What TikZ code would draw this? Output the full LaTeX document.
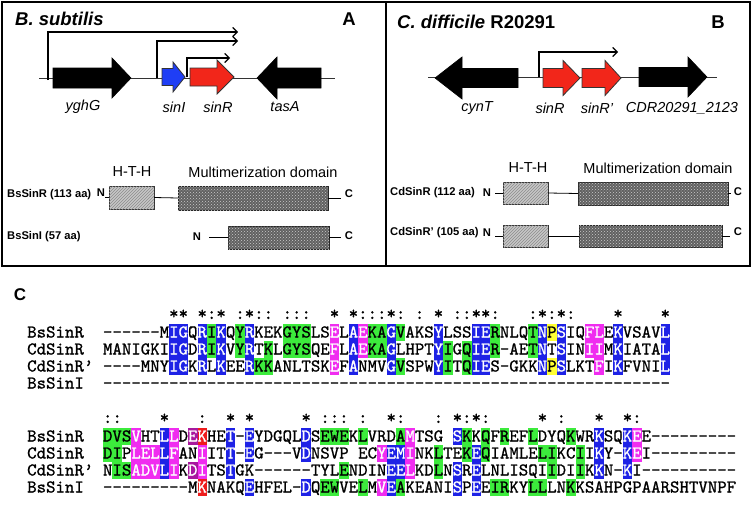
\documentclass[tikz,border=0pt]{standalone}
\usepackage{fontspec}
\setmainfont{Liberation Sans}
\newfontfamily\monof{lmmono10-regular.otf}[FakeBold=1]
\usetikzlibrary{arrows.meta,patterns}
\definecolor{qb}{HTML}{1E22E6}
\definecolor{qg}{HTML}{3CEB3C}
\definecolor{qm}{HTML}{F02CF0}
\definecolor{qy}{HTML}{FFFF33}
\definecolor{qr}{HTML}{EE1C1C}
\definecolor{qp}{HTML}{A8189E}
\colorlet{zb}{white}\colorlet{zm}{white}\colorlet{zr}{white}\colorlet{zp}{white}
\colorlet{zg}{black}\colorlet{zy}{black}
\definecolor{geneblue}{HTML}{1F3EF5}
\definecolor{genered}{HTML}{F2261A}

\newcommand\alnx{103}
\newcommand\alnw{9.45}
\newcommand\alnh{17}
\newcommand\alnb{5.5}

\newcommand\alncell[4]{%
  \if#2.\relax
  \else
    \fill[fill=q#2] ({\alnx+(#3-1)*\alnw},{#4-\alnh/2}) rectangle ++(\alnw,\alnh);%
  \fi
  \if#1/\relax
  \else
    \if#2.\relax
      \node[res] (a#4c#3) at ({\alnx+(#3-0.5)*\alnw},{#4+\alnb}) {#1};%
    \else
      \node[res,text=z#2] (a#4c#3) at ({\alnx+(#3-0.5)*\alnw},{#4+\alnb}) {#1};%
    \fi
  \fi
}

\ExplSyntaxOn
\NewDocumentCommand \alnrow { m m m }
  {
    \int_step_inline:nn { \tl_count:n {#2} }
      {
        \exp_args:Nxx \alncell { \tl_item:nn {#2} {##1} }
          { \tl_item:nn {#3..........................................................................} {##1} }
          {##1} {#1}
      }
  }
\ExplSyntaxOff

% x1 (tail), xh (head base), x2 (tip), yc, body height, head height, style
\newcommand\genearrow[7]{%
  \filldraw[#7] ({#1},{#4-#5/2}) -- ({#2},{#4-#5/2}) -- ({#2},{#4-#6/2}) -- ({#3},{#4})
    -- ({#2},{#4+#6/2}) -- ({#2},{#4+#5/2}) -- ({#1},{#4+#5/2}) -- cycle;}

\begin{document}
\begin{tikzpicture}[x=1pt,y=-1pt,
  gline/.style={line width=0.8pt, draw=black!80},
  prom/.style={line width=1.2pt, -{Straight Barb[length=4.5pt,width=9pt]}},
  ttl/.style={font=\bfseries\fontsize{18.5}{20}\selectfont, inner sep=0},
  glab/.style={font=\itshape\fontsize{14.5}{16}\selectfont, inner sep=0},
  dom/.style={font=\fontsize{14.5}{16}\selectfont, inner sep=0},
  plab/.style={font=\bfseries\fontsize{11.2}{12}\selectfont, inner sep=0},
  hthbox/.style={draw=black!80, line width=0.8pt, fill=black!22,
    postaction={pattern=north east lines, pattern color=black!45}, inner sep=0, outer sep=0},
  multbox/.style={draw=black!85, line width=0.8pt, fill=black!62,
    postaction={pattern=crosshatch dots, pattern color=white!80!black}, inner sep=0, outer sep=0},
  dline/.style={line width=0.8pt},
  blackgene/.style={fill=black, draw=black, line width=0.6pt},
  bluegene/.style={fill=geneblue, draw=black!80, line width=0.8pt},
  redgene/.style={fill=genered, draw=black!80, line width=0.8pt},
  res/.style={font=\monof\fontsize{18}{20}\selectfont, inner sep=0, anchor=base},
  hdr/.style={font=\monof\fontsize{18}{20}\selectfont, inner sep=0, anchor=base}
]
\useasboundingbox (0,0) rectangle (752,506);
\fill[white] (0,0) rectangle (752,506);

% ---------------- frames
\draw[line width=1.6pt] (2,2) rectangle (750,266);
\draw[line width=1.6pt] (386,2) -- (386,266);

% ---------------- Panel A
\node[ttl, anchor=west] (tA) at (15,19) {\itshape B. subtilis};
\node[ttl] (lA) at (349,19) {A};
\draw[gline] (39,78) -- (335,78);
\genearrow{53}{112}{131}{78}{20}{40}{blackgene}
\genearrow{162}{173}{185}{77}{17}{30}{bluegene}
\genearrow{190}{217}{234}{77}{18}{34}{redgene}
\genearrow{321}{277}{257}{78}{20}{42}{blackgene}
\node[glab] (gA1) at (83,107) {yghG};
\node[glab] (gA2) at (174,107) {sinI};
\node[glab] (gA3) at (218,107) {sinR};
\node[glab] (gA4) at (285,107) {tasA};
\coordinate (pA1s) at (48,80);  \coordinate (pA1e) at (238,32);
\coordinate (pA2s) at (157,78); \coordinate (pA2e) at (238,41);
\coordinate (pA3s) at (187,77); \coordinate (pA3e) at (230,58);
\draw[prom] (pA1s) |- (pA1e);
\draw[prom] (pA2s) |- (pA2e);
\draw[prom] (pA3s) |- (pA3e);

\node[dom] (dA1) at (132,172) {H-T-H};
\node[dom] (dA2) at (263,172) {Multimerization domain};
\node[plab, anchor=west] (lbA1) at (7,195) {BsSinR (113 aa)};
\node[plab] (nA1) at (101,193) {N};
\node[hthbox, minimum width=45pt, minimum height=23pt] (hA1) at (131.5,197.5) {};
\node[multbox, minimum width=150pt, minimum height=24pt] (mA1) at (253,198) {};
\node[plab] (cA1) at (349,194) {C};
\draw[dline] (nA1.east |- hA1.west) -- (hA1.west);
\draw[dline] (hA1.east) -- (mA1.west);
\draw[dline] (mA1.east) -- ([xshift=-4pt]cA1.west |- mA1.east);
\node[plab, anchor=west] (lbA2) at (7,237) {BsSinI (57 aa)};
\node[plab] (nA2) at (197,237) {N};
\node[multbox, minimum width=101pt, minimum height=23pt] (mA2) at (278.5,237.5) {};
\node[plab] (cA2) at (349,236) {C};
\draw[dline] ([xshift=8pt]nA2.east |- mA2.west) -- (mA2.west);
\draw[dline] (mA2.east) -- ([xshift=-4pt]cA2.west |- mA2.east);

% ---------------- Panel B
\node[ttl, anchor=west] (tB) at (397,22) {\itshape C. difficile\/\upshape{} R20291};
\node[ttl] (lB) at (718,22) {B};
\draw[gline] (428,77) -- (717,77);
\genearrow{518}{462}{435}{78}{19}{42}{blackgene}
\genearrow{543}{563}{580}{78}{19}{35}{redgene}
\genearrow{582}{605}{621}{78}{19}{35}{redgene}
\genearrow{639}{688}{707}{77}{19}{40}{blackgene}
\node[glab] (gB1) at (477,108) {cynT};
\node[glab] (gB2) at (550,108) {sinR};
\node[glab] (gB3) at (597,108) {sinR'};
\node[glab] (gB4) at (682,108) {CDR20291\_2123};
\coordinate (pBs) at (539,77); \coordinate (pBe) at (618,52);
\draw[prom] (pBs) |- (pBe);

\node[dom] (dB1) at (528,168) {H-T-H};
\node[dom] (dB2) at (658,168) {Multimerization domain};
\node[plab, anchor=west] (lbB1) at (390,193) {CdSinR (112 aa)};
\node[plab] (nB1) at (487,193) {N};
\node[hthbox, minimum width=45pt, minimum height=22pt] (hB1) at (525.5,193) {};
\node[multbox, minimum width=150pt, minimum height=23pt] (mB1) at (653,193.5) {};
\node[plab] (cB1) at (738,192) {C};
\draw[dline] ([xshift=4pt]nB1.east |- hB1.west) -- (hB1.west);
\draw[dline] (hB1.east) -- (mB1.west);
\draw[dline] (mB1.east) -- ([xshift=-3pt]cB1.west |- mB1.east);
\node[plab, anchor=west] (lbB2) at (390,233) {CdSinR' (105 aa)};
\node[plab] (nB2) at (487,233) {N};
\node[hthbox, minimum width=45pt, minimum height=22pt] (hB2) at (525.5,236) {};
\node[multbox, minimum width=143pt, minimum height=22pt] (mB2) at (650.5,236) {};
\node[plab] (cB2) at (738,232) {C};
\draw[dline] ([xshift=4pt]nB2.east |- hB2.west) -- (hB2.west);
\draw[dline] (hB2.east) -- (mB2.west);
\draw[dline] (mB2.east) -- ([xshift=-4pt]cB2.west |- mB2.east);

% ---------------- Panel C : alignment
\node[font=\bfseries\fontsize{17}{18}\selectfont, inner sep=0] (lC) at (20,295) {C};

% block 1
\foreach \cc/\ss in {8/*,9/*,11/*,12/:,13/*,15/:,16/*,17/:,18/:,20/:,21/:,22/:,25/*,27/*,28/:,29/:,30/:,31/*,32/:,34/:,36/*,38/:,39/:,40/*,41/*,42/:,46/:,47/*,48/:,49/*,50/:,55/*,60/*}
  \node[hdr] (h1c\cc) at ({\alnx+(\cc-0.5)*\alnw},319) {\ss};
\node[res, anchor=base west] (s1a) at (27,337.5) {BsSinR};
\node[res, anchor=base west] (s1b) at (27,354.5) {CdSinR};
\node[res, anchor=base west] (s1c) at (27,371.5) {CdSinR’};
\node[res, anchor=base west] (s1d) at (27,388.5) {BsSinI};
\alnrow{332}{------MIGQRIKQYRKEKGYSLSELAEKAGVAKSYLSSIERNLQTNPSIQFLEKVSAVL}
  {.......bb.bgb.gb...ggg..m.bmggbg...b...bbg...gbyb..mm.b....b}
\alnrow{349}{MANIGKIIGDRIKVYRTKLGYSQEFLAEKAGLHPTYIGQIER-AETNTSINIIMKIATAL}
  {.......bb.bgb.gb.g.ggg..m.bmggb....bg.gbbg...gb.b..mm.b....b}
\alnrow{366}{----MNYIGKRLKEERKKANLTSKEFANMVGVSPWYITQIES-GKKNPSLKTFIKFVNIL}
  {.......bb.b.b..bgg......m.b...bg...bg.gbb.....byb...m.b....b}
\alnrow{383}{------------------------------------------------------------}{.}

% block 2
\foreach \cc/\ss in {1/:,2/:,7/*,11/:,14/*,16/*,22/*,24/:,25/:,26/:,28/:,31/*,32/:,36/:,38/*,39/:,40/*,41/:,47/*,49/:,53/*,56/*,57/:}
  \node[hdr] (h2c\cc) at ({\alnx+(\cc-0.5)*\alnw},423) {\ss};
\node[res, anchor=base west] (s2a) at (27,441.5) {BsSinR};
\node[res, anchor=base west] (s2b) at (27,458.5) {CdSinR};
\node[res, anchor=base west] (s2c) at (27,475.5) {CdSinR’};
\node[res, anchor=base west] (s2d) at (27,492.5) {BsSinI};
\alnrow{436}{DVSVHTLLDEKHET-EYDGQLDSEWEKLVRDAMTSG/SKKQFREFLDYQKWRKSQKEE---------}
  {gggm..bm.pr..b.b.....b.ggg.g...gm....bg.g.g..g...g..b..bm..........}
\alnrow{453}{DIPLELLFANIITT-EG---VDNSVP/ECYEMINKLTEKEQIAMLELIKCIIKY-KEI---------}
  {gg.mmmbm..m..b.b.....b.......mbbm..g..gbg.....gg..g.b..bm..........}
\alnrow{470}{NISADVLIKDITSTGK------TYLENDINEELKDLNSRELNLISQIIDIIKKN-KI----------}
  {.ggmmmbm.pm..b...........g....bbm..g.b.b.......g..g.b..b...........}
\alnrow{487}{---------MKNAKQEHFEL-DQEWVELMVEAKEANISPEEIRKYLLLNKKSAHPGPAARSHTVNPF}
  {..........r....b.....b.gg..g.mbg.....b.b.gg..gg..g.................}
\end{tikzpicture}
\end{document}
